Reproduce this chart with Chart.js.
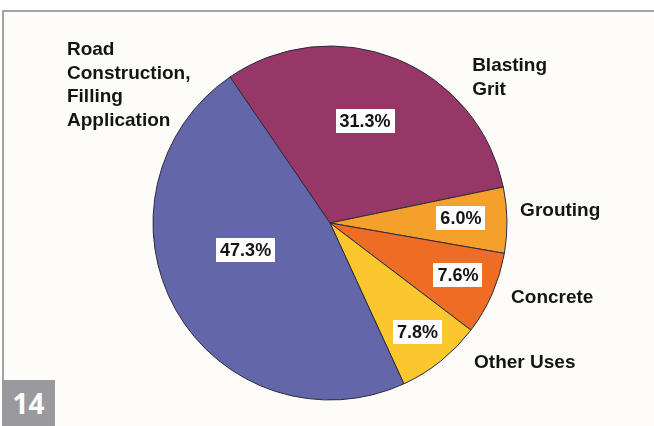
<!DOCTYPE html>
<html>
<head>
<meta charset="utf-8">
<script src="https://cdn.jsdelivr.net/npm/chart.js@4/dist/chart.umd.min.js"></script>
<style>
  html, body { margin: 0; padding: 0; background: #ffffff; }
  #wrap { position: relative; width: 654px; height: 426px; overflow: hidden; background: #ffffff; }
  #frame {
    position: absolute; left: 2px; top: 10px; width: 660px; height: 420px;
    border-top: 2px solid #a3a3a6; border-left: 2px solid #a3a3a6;
    background: #fdfcf9; box-sizing: border-box;
  }
  #badge {
    position: absolute; left: 2px; top: 380px; width: 53px; height: 46px;
    background: #9a9a9e; color: #ffffff;
    font: bold 28px "Open Sans", "Liberation Sans", sans-serif;
    line-height: 46px; text-align: center;
  }
  canvas { position: absolute; left: 0; top: 0; }
</style>
</head>
<body>
<div id="wrap">
  <div id="frame"></div>
  <canvas id="c" width="654" height="426"></canvas>
  <div id="badge">14</div>
</div>
<script>
// Uses of the material, share in percent (clockwise from the upper left)
const categories = [
  ['Blasting', 'Grit'],
  ['Grouting'],
  ['Concrete'],
  ['Other Uses'],
  ['Road', 'Construction,', 'Filling', 'Application']
];
const shares = [31.3, 6.0, 7.6, 7.8, 47.3];

const sliceColors = ['#963768', '#F6A02C', '#EF6C24', '#FCC72D', '#6366A8'];

// where each value box sits: fraction of the radius and an angular nudge (deg)
const valueLabelPlacement = [
  { frac: 0.61, nudge: -3 },
  { frac: 0.74, nudge: -1.3 },
  { frac: 0.78, nudge: -1.5 },
  { frac: 0.79, nudge: 0 },
  { frac: 0.50, nudge: 12 }
];
// category captions, offset from the pie centre in units of the radius
const captionPlacement = [
  { dx: 0.803, dy: -0.887 },
  { dx: 1.074, dy: -0.068 },
  { dx: 1.023, dy: 0.424 },
  { dx: 0.814, dy: 0.791 },
  { dx: -1.486, dy: -0.978 }
];

const labelFont = 'bold 19px "Liberation Sans", Arial, sans-serif';
const valueFont = 'bold 18px "Liberation Sans", Arial, sans-serif';

const pieLabels = {
  id: 'pieLabels',
  afterDatasetsDraw(chart) {
    const ctx = chart.ctx;
    const meta = chart.getDatasetMeta(0);
    const values = chart.data.datasets[0].data;
    ctx.save();
    ctx.textBaseline = 'middle';
    meta.data.forEach((arc, i) => {
      const p = arc.getProps(['x', 'y', 'startAngle', 'endAngle', 'outerRadius'], true);
      // value box inside the slice
      const place = valueLabelPlacement[i];
      const mid = (p.startAngle + p.endAngle) / 2 + place.nudge * Math.PI / 180;
      const r = p.outerRadius * place.frac;
      const lx = p.x + Math.cos(mid) * r;
      const ly = p.y + Math.sin(mid) * r;
      const text = values[i].toFixed(1) + '%';
      ctx.font = valueFont;
      const w = ctx.measureText(text).width;
      ctx.fillStyle = '#ffffff';
      ctx.fillRect(Math.round(lx - w / 2 - 4), Math.round(ly - 12), Math.round(w + 8), 24);
      ctx.fillStyle = '#141414';
      ctx.textAlign = 'center';
      ctx.fillText(text, lx, ly + 1);

      // category caption beside the pie
      const cap = captionPlacement[i];
      const cx = p.x + cap.dx * p.outerRadius;
      const cy = p.y + cap.dy * p.outerRadius;
      ctx.font = labelFont;
      ctx.textAlign = 'left';
      chart.data.labels[i].forEach((line, k) => {
        ctx.fillText(line, cx, cy + k * 23.5);
      });
    });
    ctx.restore();
  }
};

new Chart(document.getElementById('c'), {
  type: 'pie',
  data: {
    labels: categories,
    datasets: [{
      data: shares,
      backgroundColor: sliceColors,
      borderColor: '#2b2b3c',
      borderWidth: 1
    }]
  },
  options: {
    responsive: false,
    animation: false,
    events: [],
    rotation: -34.4,
    radius: 177,
    layout: { padding: { left: 6, right: 0, top: 20, bottom: 0 } },
    plugins: {
      legend: { display: false },
      tooltip: { enabled: false },
      title: { display: false }
    }
  },
  plugins: [pieLabels]
});
</script>
</body>
</html>
